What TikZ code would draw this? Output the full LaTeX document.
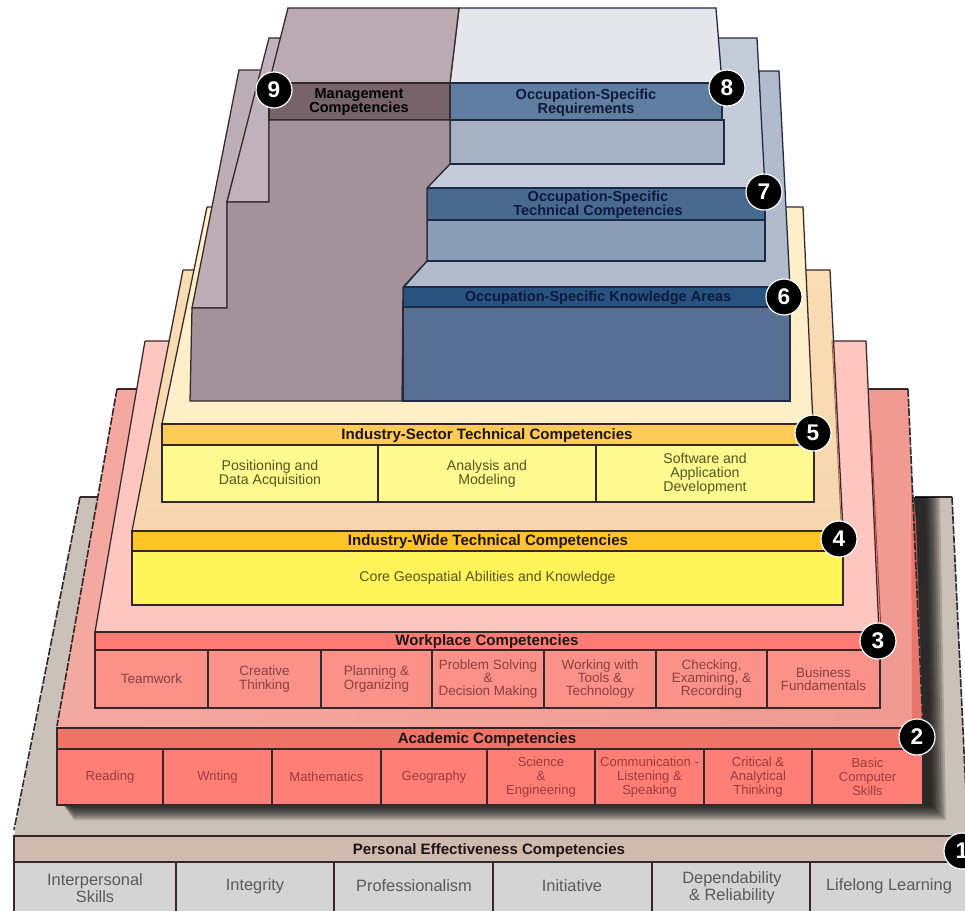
\documentclass[tikz,border=0pt]{standalone}
\usepackage{fontspec}
\setmainfont{Liberation Sans}
\usetikzlibrary{calc}
\definecolor{edgeC}{HTML}{33292B}
\definecolor{navyE}{HTML}{1E2A44}
\definecolor{Lone}{HTML}{CAC2B9}
\definecolor{LtwoA}{HTML}{F4A9A0}
\definecolor{LtwoB}{HTML}{F09A90}
\definecolor{LtwoC}{HTML}{E66A60}
\definecolor{LthreeA}{HTML}{FFC6BF}
\definecolor{LfourA}{HTML}{FBDDB4}
\definecolor{LfourB}{HTML}{F5D6AE}
\definecolor{LfiveA}{HTML}{FFEFC8}
\definecolor{txtOne}{HTML}{5A5A5A}
\definecolor{txtTwo}{HTML}{A03A3A}
\definecolor{txtThree}{HTML}{8E3F3C}
\definecolor{txtY}{HTML}{55551E}
\definecolor{txtB}{HTML}{0E1A3C}
\definecolor{txtH}{HTML}{1E1414}
\definecolor{barOne}{HTML}{CFBAAF}
\definecolor{cellOne}{HTML}{D4D4D4}
\definecolor{barTwo}{HTML}{EE7468}
\definecolor{cellTwo}{HTML}{FF7F76}
\definecolor{lineThree}{HTML}{B0353A}
\definecolor{barThree}{HTML}{FF7B73}
\definecolor{cellThree}{HTML}{FB9289}
\definecolor{lineFour}{HTML}{A06A4A}
\definecolor{barFour}{HTML}{FFC425}
\definecolor{cellFour}{HTML}{FFF45A}
\definecolor{barFive}{HTML}{FFCB58}
\definecolor{cellFive}{HTML}{FFF98F}
\definecolor{surfSix}{HTML}{B0BBCC}
\definecolor{surfSeven}{HTML}{C4CCD9}
\definecolor{surfEight}{HTML}{E4E6EC}
\definecolor{frontEight}{HTML}{A4B2C4}
\definecolor{barEight}{HTML}{5F7EA1}
\definecolor{frontSeven}{HTML}{8A9DB6}
\definecolor{barSeven}{HTML}{486A90}
\definecolor{frontSix}{HTML}{566F93}
\definecolor{barSix}{HTML}{28527F}
\definecolor{mgmtC}{HTML}{BDAEB6}
\definecolor{mgmtB}{HTML}{C0B2BA}
\definecolor{mgmtA}{HTML}{BAABB3}
\definecolor{mgmtBar}{HTML}{77646B}
\definecolor{mgmtFront}{HTML}{A39299}
\tikzset{
  x=0.75pt,y=-0.75pt,
  edge/.style={draw=edgeC,line width=0.95pt,line join=miter},
  navy/.style={draw=navyE,line width=0.95pt,line join=miter},
  rough/.style={draw=edgeC,line width=1.2pt,dash pattern=on 6pt off 1.2pt},
  head/.style={font=\bfseries\fontsize{11.3}{10.6}\selectfont,align=center,text=#1,inner sep=0pt},
  uphead/.style={font=\bfseries\fontsize{10.9}{10.5}\selectfont,align=center,text=#1,inner sep=0pt},
  celltext/.style={font=\fontsize{10.6}{10.4}\selectfont,align=center,text=#1,inner sep=0pt},
  celltwo/.style={font=\fontsize{9.8}{10.6}\selectfont,align=center,text=txtTwo,inner sep=0pt},
  cellthree/.style={font=\fontsize{10.1}{10.1}\selectfont,align=center,text=txtThree,inner sep=0pt},
  bigtext/.style={font=\fontsize{12.3}{11.4}\selectfont,align=center,text=#1,inner sep=0pt},
  badge/.style={circle,fill=black,draw=white,line width=0.9pt,minimum size=27pt,inner sep=0pt,text=white,font=\bfseries\fontsize{17}{17}\selectfont},
}
% name, fill, x1, x2, y1, y2, node style, text
\newcommand\cellbox[8]{%
  \path[edge,fill=#2] (#3,#5) rectangle (#4,#6);
  \node[#7] (#1) at ($(#3,#5)!0.5!(#4,#6)$) {#8};}
\begin{document}
\begin{tikzpicture}
\useasboundingbox (0,0) rectangle (965,911);
\fill[white] (0,0) rectangle (965,911);
\begin{scope}
\clip (0,0) rectangle (965,911);
% ---------- layer 1
\fill[Lone] (80,497) -- (952,497) -- (968,836) -- (14,836) -- cycle;
\draw[rough] (80,497) -- (14,830);
\draw[rough] (952,497) -- (968,836);
\draw[edge] (80,497) -- (117,497);
\draw[edge] (915,497) -- (952,497);
% shadow
\foreach \d in {14,12,...,0}{
  \fill[black,opacity=0.17] (912,497) -- (926+\d,497) -- (932+\d,806+\d) -- (74,806+\d) -- (62,803) -- (923,803) -- cycle;
}
\cellbox{bar1}{barOne}{14}{970}{836}{862}{head=txtH}{}
\node[head=txtH] (t1) at (489,851) {Personal Effectiveness Competencies};
\cellbox{c11}{cellOne}{14}{176}{862}{925}{}{}
\cellbox{c12}{cellOne}{176}{334}{862}{925}{}{}
\cellbox{c13}{cellOne}{334}{493}{862}{925}{}{}
\cellbox{c14}{cellOne}{493}{652}{862}{925}{}{}
\cellbox{c15}{cellOne}{652}{810}{862}{925}{}{}
\cellbox{c16}{cellOne}{810}{970}{862}{925}{}{}
\node[bigtext=txtOne] at (95,888) {Interpersonal\\[0.6pt]Skills};
\node[bigtext=txtOne] at (255,886) {Integrity};
\node[bigtext=txtOne] at (414,886) {Professionalism};
\node[bigtext=txtOne] at (572,886) {Initiative};
\node[bigtext=txtOne] at (732,888) {Dependability\\[0.6pt]\& Reliability};
\node[bigtext=txtOne] at (889,886) {Lifelong Learning};
% ---------- layer 2
\shade[left color=LtwoA,middle color=LtwoA,right color=LtwoB] (117,389) -- (908,389) -- (923,728) -- (57,728) -- cycle;
\fill[LtwoC,opacity=0.75] (911,470) -- (916,520) -- (923,728) -- (912,728) -- cycle;
\draw[rough] (117,389) -- (57,726);
\draw[edge] (117,389) -- (146,389);
\draw[edge] (866,389) -- (908,389);
\draw[rough] (908,389) -- (923,728);
\cellbox{bar2}{barTwo}{57}{923}{728}{749}{head=txtH}{}
\node[head=txtH] (t2) at (487,740) {Academic Competencies};
\cellbox{c21}{cellTwo}{57}{163}{749}{805}{celltwo}{Reading}
\cellbox{c22}{cellTwo}{163}{272}{749}{805}{celltwo}{Writing}
\cellbox{c23}{cellTwo}{272}{381}{749}{805}{celltwo}{Mathematics}
\cellbox{c24}{cellTwo}{381}{487}{749}{805}{celltwo}{Geography}
\cellbox{c25}{cellTwo}{487}{595}{749}{805}{celltwo}{Science\\\&\\Engineering}
\cellbox{c26}{cellTwo}{595}{704}{749}{805}{celltwo}{Communication -\\Listening \&\\Speaking}
\cellbox{c27}{cellTwo}{704}{812}{749}{805}{celltwo}{Critical \&\\Analytical\\Thinking}
\cellbox{c28}{cellTwo}{812}{923}{749}{805}{celltwo}{Basic\\Computer\\Skills}
% ---------- layer 3
\fill[LthreeA] (145,341) -- (866,341) -- (880,632) -- (95,632) -- cycle;
\draw[edge] (145,341) -- (866,341) -- (879,632);
\draw[edge] (145,341) -- (95,632);
\draw[draw=lineThree,line width=0.7pt] (871,430) -- (881,630);
\cellbox{bar3}{barThree}{95}{880}{632}{650}{head=txtH}{}
\node[head=txtH] (t3) at (487,642) {Workplace Competencies};
\cellbox{c31}{cellThree}{95}{208}{650}{708}{cellthree}{Teamwork}
\cellbox{c32}{cellThree}{208}{321}{650}{708}{cellthree}{Creative\\Thinking}
\cellbox{c33}{cellThree}{321}{432}{650}{708}{cellthree}{Planning \&\\Organizing}
\cellbox{c34}{cellThree}{432}{544}{650}{708}{cellthree}{Problem Solving\\\&\\Decision Making}
\cellbox{c35}{cellThree}{544}{656}{650}{708}{cellthree}{Working with\\Tools \&\\Technology}
\cellbox{c36}{cellThree}{656}{767}{650}{708}{cellthree}{Checking,\\Examining, \&\\Recording}
\cellbox{c37}{cellThree}{767}{880}{650}{708}{cellthree}{Business\\Fundamentals}
% ---------- layer 4
\shade[top color=LfourA,bottom color=LfourB] (183,270) -- (830,270) -- (843,531) -- (132,531) -- cycle;
\draw[edge] (183,270) -- (132,531);
\draw[edge] (183,270) -- (830,270) -- (843,531);
\draw[draw=lineFour,line width=0.7pt] (832,340) -- (841,520);
\cellbox{bar4}{barFour}{132}{843}{531}{551}{head=txtH}{}
\node[head=txtH] (t4) at (488,542) {Industry-Wide Technical Competencies};
\cellbox{c41}{cellFour}{132}{843}{551}{605}{celltext=txtY}{Core Geospatial Abilities and Knowledge}
% ---------- layer 5
\fill[LfiveA] (207,207) -- (803,207) -- (813,424) -- (162,424) -- cycle;
\draw[edge] (207,207) -- (162,424);
\draw[edge] (207,207) -- (803,207) -- (813,424);
\cellbox{bar5}{barFive}{162}{814}{424}{445}{head=txtH}{}
\node[head=txtH] (t5) at (487,436) {Industry-Sector Technical Competencies};
\cellbox{c51}{cellFive}{162}{378}{445}{502}{celltext=txtY}{Positioning and\\Data Acquisition}
\cellbox{c52}{cellFive}{378}{596}{445}{502}{celltext=txtY}{Analysis and\\Modeling}
\cellbox{c53}{cellFive}{596}{814}{445}{502}{celltext=txtY}{Software and\\Application\\Development}
% ---------- occupation layers (blue)
\path[navy,fill=surfSix] (759,71) -- (779,71) -- (790,287) -- (404,287) -- (427,261) -- (765,261) -- cycle;
\path[navy,fill=surfSeven] (716,38) -- (757,38) -- (765,188) -- (427,188) -- (450,164) -- (724,164) -- cycle;
\path[navy,fill=surfEight] (459,8) -- (716,8) -- (722,83) -- (450,83) -- cycle;
\path[navy,fill=frontEight] (450,120) rectangle (724,164);
\path[navy,fill=barEight] (450,83) rectangle (722,120);
\path[navy,fill=frontSeven] (427,220) rectangle (765,261);
\path[navy,fill=barSeven] (427,188) rectangle (765,220);
\path[navy,fill=frontSix] (403,307) rectangle (790,401);
\path[navy,fill=barSix] (403,287) rectangle (790,307);
% ---------- management
\path[edge,fill=mgmtC] (239,70) -- (262,70) -- (227,202) -- (227,308) -- (192,308) -- cycle;
\path[edge,fill=mgmtB] (269,38) -- (285,38) -- (269,83) -- (269,202) -- (227,202) -- cycle;
\path[edge,fill=mgmtA] (288,8) -- (459,8) -- (450,83) -- (269,83) -- cycle;
\path[edge,fill=mgmtBar] (269,83) rectangle (450,120);
\path[edge,fill=mgmtFront] (269,120) -- (450,120) -- (450,164) -- (427,188) -- (427,261) -- (403,287) -- (402,401) -- (190,401) -- (192,308) -- (227,308) -- (227,202) -- (269,202) -- cycle;
\node[uphead=black] (t9) at (359,102) {Management\\Competencies};
\node[uphead=txtB] (t8) at (586,103) {Occupation-Specific\\Requirements};
\node[uphead=txtB] (t7) at (598,205) {Occupation-Specific\\Technical Competencies};
\node[uphead=txtB] (t6) at (598,298) {Occupation-Specific Knowledge Areas};
% ---------- badges
\node[badge] (b9) at (274,90) {9};
\node[badge] (b8) at (727,88) {8};
\node[badge] (b7) at (764,192) {7};
\node[badge] (b6) at (784,297) {6};
\node[badge] (b5) at (813,433) {5};
\node[badge] (b4) at (839,539) {4};
\node[badge] (b3) at (878,641) {3};
\node[badge] (b2) at (917,737) {2};
\node[badge] (b1) at (962,851) {1};
\end{scope}
\end{tikzpicture}
\end{document}
